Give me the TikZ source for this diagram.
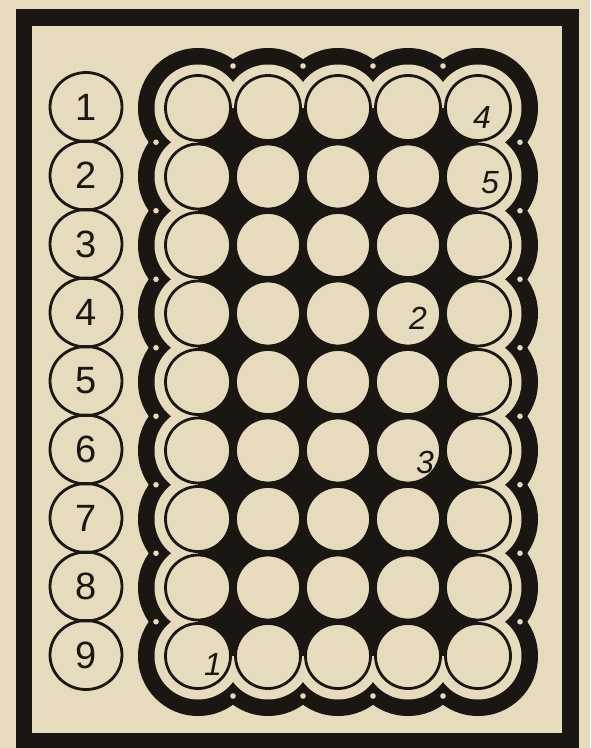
\documentclass[tikz,border=0pt]{standalone}
\usepackage{fontspec}
\setmainfont{Liberation Sans}
\usetikzlibrary{shapes.geometric}
\definecolor{paper}{RGB}{231,219,190}
\definecolor{ink}{RGB}{26,22,18}
\begin{document}
\begin{tikzpicture}[x=1pt,y=-1pt,
  cell/.style={circle,draw=ink,fill=paper,line width=2.8pt,minimum size=65pt,inner sep=0pt},
  labcirc/.style={ellipse,draw=ink,line width=2.8pt,minimum width=72pt,minimum height=69pt,inner sep=0pt,
    font=\fontsize{38}{38}\selectfont,text=ink},
  numtext/.style={font=\fontsize{32}{32}\selectfont\itshape,text=ink,inner sep=0pt},
  cuspdot/.style={fill=paper}]
\fill[paper] (0,0) rectangle (590,748);
\useasboundingbox (0,0) rectangle (590,748);
% outer frame
\draw[ink,line width=16.5pt] (24,17.5) rectangle (570.5,741.5);
% scalloped band
\foreach \c in {1,...,5}{\foreach \r in {1,...,9}{
  \fill[ink] ({198+70*(\c-1)},{108+68.5*(\r-1)}) circle (60);}}
\foreach \c in {1,...,5}{\foreach \r in {1,...,9}{
  \fill[paper] ({198+70*(\c-1)},{108+68.5*(\r-1)}) circle (43.5);}}
% cusp dots
\foreach \x in {233,303,373,443}{
  \fill[cuspdot] (\x,66) circle (2.8);
  \fill[cuspdot] (\x,696) circle (2.8);}
\foreach \r in {1,...,8}{
  \fill[cuspdot] (156,{142.25+68.5*(\r-1)}) circle (2.8);
  \fill[cuspdot] (520,{142.25+68.5*(\r-1)}) circle (2.8);}
% black interior
\fill[ink] (198,108) rectangle (478,656);
% grid cells
\foreach \c in {1,...,5}{\foreach \r in {1,...,9}{
  \node[cell] (c-\r-\c) at ({198+70*(\c-1)},{108+68.5*(\r-1)}) {};}}
% row labels
\foreach \r in {1,...,9}{
  \node[labcirc] (l-\r) at (86,{107+68.5*(\r-1)}) {\r};}
% numbers in cells
\node[numtext] (n4) at (482,117) {4};
\node[numtext] (n5) at (490,183) {5};
\node[numtext] (n2) at (418,318) {2};
\node[numtext] (n3) at (425,462) {3};
\node[numtext] (n1) at (213,664) {1};
\end{tikzpicture}
\end{document}
